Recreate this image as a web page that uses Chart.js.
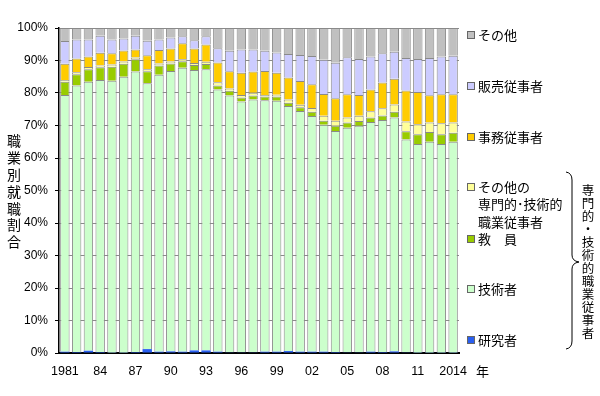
<!DOCTYPE html>
<html lang="ja">
<head>
    <meta charset="UTF-8">
    <title>職業別就職割合</title>
    <script src="https://cdn.jsdelivr.net/npm/chart.js"></script>
    <style>
        body { margin: 0; background: #ffffff; }
        #wrap { width: 600px; height: 396px; }
    </style>
</head>
<body>
    <div id="wrap"><canvas id="chart" width="600" height="396"></canvas></div>

    <script>
        "use strict";

        // 年度（1981〜2014）
        const years = ['1981','1982','1983','1984','1985','1986','1987','1988','1989','1990',
                       '1991','1992','1993','1994','1995','1996','1997','1998','1999','2000',
                       '2001','2002','2003','2004','2005','2006','2007','2008','2009','2010',
                       '2011','2012','2013','2014'];
        // 軸に表示する目盛ラベル（3年ごと）
        const tickLabels = ['1981','84','87','90','93','96','99','02','05','08','11','2014'];

        // 各職業の割合（%）
        const researcher = [0.4,0.3,0.7,0.3,0.1,0.1,0.3,1.2,0.4,0.5,0.4,0.8,0.8,0.4,0.2,0.2,0.2,
                            0.4,0.4,0.6,0.4,0.4,0.4,0.3,0.2,0.2,0.4,0.3,0.5,0.2,0.1,0.1,0.1,0.1];
        const engineer = [79.0,82.0,82.8,83.7,83.7,84.9,86.3,81.8,85.2,86.3,87.4,86.3,86.5,80.7,79.0,77.2,77.8,
                          77.4,77.2,75.4,74.1,72.5,69.8,68.0,69.1,69.7,70.7,71.4,72.0,65.5,64.2,64.9,64.2,64.9];
        const teacher = [4.1,3.5,3.8,3.9,4.3,4.0,3.8,3.7,2.9,2.3,2.0,1.5,1.6,1.2,1.5,1.2,1.2,
                         1.1,1.3,1.0,1.1,1.3,1.3,1.6,1.6,1.5,1.4,1.4,1.7,2.5,3.0,3.0,3.0,2.8];
        const otherProf = [0.5,0.6,0.7,0.6,0.7,0.7,0.5,0.6,0.6,0.6,0.6,0.6,0.7,1.0,0.7,0.8,0.9,
                           0.5,0.6,1.0,0.8,1.2,1.5,1.6,1.6,1.6,1.9,2.2,2.3,3.0,3.1,2.9,3.4,3.1];
        const clerical = [5.0,4.2,3.2,3.9,3.4,3.4,2.5,4.3,4.1,4.0,4.9,4.5,5.3,6.1,5.3,6.8,6.5,
                          7.4,6.7,6.8,7.3,7.3,6.7,6.9,7.1,6.4,6.7,7.9,7.9,9.6,9.9,8.4,8.9,8.7];
        const sales = [7.0,5.9,5.3,5.2,4.3,3.7,4.2,4.5,3.3,3.4,2.2,2.5,2.6,4.4,6.3,7.2,6.8,
                       6.2,6.3,7.2,8.0,8.7,10.5,10.9,11.4,11.1,10.1,9.0,8.3,10.0,10.2,11.5,11.6,11.9];
        const others = [4.0,3.5,3.5,2.4,3.5,3.2,2.4,3.9,3.5,2.9,2.5,3.8,2.5,6.2,7.0,6.6,6.6,
                        7.0,7.5,8.0,8.3,8.6,9.8,10.7,9.0,9.5,8.8,7.8,7.3,9.2,9.5,9.2,8.8,8.5];

        const seriesNames = ['研究者','技術者','教　員','その他の専門的・技術的職業従事者','事務従事者','販売従事者','その他'];
        const seriesColors = ['#2a5ff0','#ccffcc','#99cc00','#ffff99','#ffcc00','#ccccff','#c0c0c0'];
        const seriesData = [researcher, engineer, teacher, otherProf, clerical, sales, others];

        const cjk = '"Noto Sans CJK JP", sans-serif';

        // 縦書きの軸タイトル・凡例・括弧を描くプラグイン
        const decorations = {
            id: 'decorations',
            afterDraw(chart) {
                const ctx = chart.ctx;
                ctx.save();
                ctx.fillStyle = '#000';
                ctx.textBaseline = 'middle';

                // 縦書きの軸タイトル
                ctx.font = '14px ' + cjk;
                ctx.textAlign = 'center';
                const title = '職業別就職割合';
                for (let i = 0; i < title.length; i++) {
                    ctx.fillText(title[i], 14, 141 + i * 16.8);
                }

                // 凡例（上から その他 → 研究者）
                const items = [
                    { idx: 6, y: 35, lines: ['その他'] },
                    { idx: 5, y: 86, lines: ['販売従事者'] },
                    { idx: 4, y: 137, lines: ['事務従事者'] },
                    { idx: 3, y: 187, lines: ['その他の', '専門的･技術的', '職業従事者'] },
                    { idx: 2, y: 239, lines: ['教　員'] },
                    { idx: 1, y: 289, lines: ['技術者'] },
                    { idx: 0, y: 340, lines: ['研究者'] }
                ];
                ctx.font = '13px ' + cjk;
                ctx.textAlign = 'left';
                items.forEach(it => {
                    ctx.fillStyle = seriesColors[it.idx];
                    ctx.fillRect(467, it.y - 4, 8, 8);
                    ctx.strokeStyle = '#666';
                    ctx.lineWidth = 1;
                    ctx.strokeRect(467.5, it.y - 3.5, 7, 7);
                    ctx.fillStyle = '#000';
                    it.lines.forEach((line, k) => ctx.fillText(line, 478, it.y + k * 17.5));
                });

                // 括弧
                ctx.strokeStyle = '#000';
                ctx.lineWidth = 1;
                ctx.beginPath();
                ctx.moveTo(566, 172);
                ctx.quadraticCurveTo(572, 173, 572, 180);
                ctx.lineTo(572, 255);
                ctx.quadraticCurveTo(572, 261, 579, 262);
                ctx.quadraticCurveTo(572, 263, 572, 269);
                ctx.lineTo(572, 341);
                ctx.quadraticCurveTo(572, 348, 566, 349);
                ctx.stroke();

                // 縦書きのグループ名
                ctx.textAlign = 'center';
                ctx.font = '12.5px ' + cjk;
                const group = '専門的・技術的職業従事者';
                for (let i = 0; i < group.length; i++) {
                    ctx.fillText(group[i], 588, 190 + i * 13.0);
                }

                // 年
                ctx.font = '13px ' + cjk;
                ctx.textAlign = 'left';
                ctx.fillText('年', 476, 371);
                ctx.restore();
            }
        };

        new Chart(document.getElementById('chart'), {
            type: 'bar',
            data: {
                labels: years,
                datasets: seriesData.map((d, i) => ({
                    label: seriesNames[i],
                    data: d,
                    backgroundColor: seriesColors[i],
                    borderColor: '#8a8a8a',
                    borderWidth: i === 0 ? 0 : 1,
                    barPercentage: 0.8,
                    categoryPercentage: 1.0
                }))
            },
            options: {
                responsive: false,
                animation: false,
                layout: { padding: { top: 28, right: 141, left: 0, bottom: 0 } },
                plugins: {
                    legend: { display: false },
                    tooltip: { enabled: false }
                },
                scales: {
                    x: {
                        stacked: true,
                        grid: { display: false },
                        border: { color: '#000', width: 2 },
                        afterFit(scale) { scale.height = 43; },
                        ticks: {
                            autoSkip: false,
                            maxRotation: 0,
                            padding: 3,
                            color: '#000',
                            font: { size: 12.5, family: 'Arial, "Liberation Sans", sans-serif' },
                            callback: (v, i) => (i % 3 === 0 ? tickLabels[i / 3] : '')
                        }
                    },
                    y: {
                        stacked: true,
                        min: 0,
                        max: 100,
                        afterFit(scale) { scale.width = 59; },
                        grid: { color: '#8a8a8a', tickColor: '#000', tickLength: 4 },
                        border: { color: '#000', width: 1.5 },
                        ticks: {
                            stepSize: 10,
                            padding: 7,
                            color: '#000',
                            font: { size: 12, family: 'Arial, "Liberation Sans", sans-serif' },
                            callback: v => v + '%'
                        }
                    }
                }
            },
            plugins: [decorations]
        });
    </script>
</body>
</html>
